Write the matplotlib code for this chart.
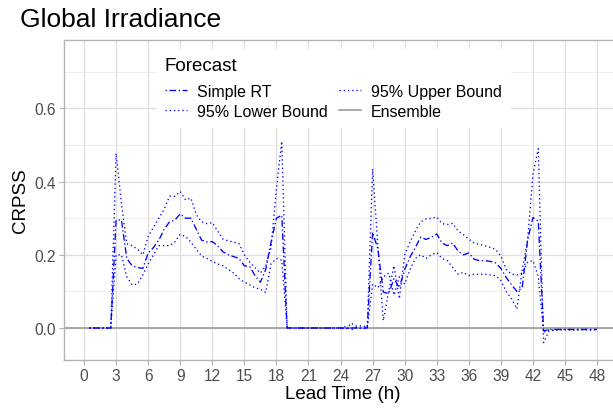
import numpy as np
import matplotlib
matplotlib.use("Agg")
import matplotlib.pyplot as plt
from matplotlib.ticker import MultipleLocator

plt.rcParams["font.family"] = ["Liberation Sans", "DejaVu Sans"]

# lead time in hours (half-hour steps)
lead_time = np.arange(0.5, 48.01, 0.5)

simple_rt = [
    0, 0, 0, 0, 0,
    0.295, 0.295, 0.19, 0.17, 0.165, 0.163,
    0.205, 0.22, 0.24, 0.27, 0.29, 0.295,
    0.312, 0.30, 0.30, 0.27, 0.24, 0.235,
    0.236, 0.225, 0.208, 0.20, 0.195, 0.19,
    0.17, 0.168, 0.143, 0.125, 0.16, 0.235,
    0.30, 0.308, 0, 0, 0, 0,
    0, 0, 0, 0, 0, 0,
    0, 0, 0, 0, 0, 0,
    0.262, 0.215, 0.098, 0.094, 0.135, 0.11,
    0.16, 0.194, 0.22, 0.248, 0.242, 0.248,
    0.257, 0.232, 0.225, 0.232, 0.21, 0.20,
    0.205, 0.188, 0.184, 0.184, 0.182, 0.178,
    0.163, 0.138, 0.118, 0.10, 0.11, 0.24,
    0.302, 0.292, -0.008, -0.004, -0.004, -0.004,
    -0.004, -0.004, -0.004, -0.004, -0.004, -0.004,
    -0.004,
]

upper_95 = [
    0, 0, 0, 0, 0,
    0.477, 0.34, 0.23, 0.225, 0.215, 0.20,
    0.25, 0.275, 0.30, 0.325, 0.36, 0.36,
    0.373, 0.35, 0.355, 0.31, 0.29, 0.285,
    0.288, 0.265, 0.243, 0.238, 0.235, 0.23,
    0.20, 0.18, 0.165, 0.15, 0.17, 0.22,
    0.38, 0.51, 0, 0, 0, 0,
    0, 0, 0, 0, 0, 0,
    0, -0.003, 0.013, 0.005, 0.006, 0.002,
    0.435, 0.22, 0.02, 0.10, 0.17, 0.08,
    0.20, 0.235, 0.265, 0.29, 0.298, 0.30,
    0.303, 0.285, 0.283, 0.286, 0.265, 0.255,
    0.243, 0.232, 0.228, 0.225, 0.22, 0.215,
    0.197, 0.16, 0.147, 0.145, 0.15, 0.18,
    0.184, 0.14, -0.012, -0.005, -0.006, -0.004,
    -0.005, -0.004, -0.006, -0.004, -0.005, -0.004,
    -0.004,
]

lower_95 = [
    0, 0, 0, 0, 0,
    0.20, 0.20, 0.14, 0.118, 0.12, 0.145,
    0.175, 0.20, 0.225, 0.225, 0.225, 0.235,
    0.256, 0.25, 0.235, 0.215, 0.197, 0.19,
    0.182, 0.175, 0.17, 0.16, 0.15, 0.135,
    0.125, 0.118, 0.11, 0.106, 0.097, 0.175,
    0.19, 0.185, 0, 0, 0, 0,
    0, 0, 0, 0, 0, 0,
    0, 0.004, -0.005, 0.002, -0.002, 0,
    0.12, 0.11, 0.14, 0.15, 0.09, 0.14,
    0.12, 0.16, 0.19, 0.20, 0.19, 0.20,
    0.206, 0.19, 0.184, 0.165, 0.147, 0.152,
    0.143, 0.147, 0.147, 0.147, 0.145, 0.143,
    0.13, 0.10, 0.08, 0.052, 0.16, 0.24,
    0.42, 0.49, -0.04, -0.008, -0.006, -0.005,
    -0.004, -0.006, -0.004, -0.005, -0.004, -0.006,
    -0.004,
]

ensemble_level = 0.0

fig = plt.figure(figsize=(6.13, 4.10), dpi=100)
ax = fig.add_axes([0.1044, 0.1183, 0.911, 0.7824])

dotted = (0, (1, 2.2))
dotdash = (0, (1, 2, 5, 2))

# grid like ggplot theme_light
ax.set_axisbelow(True)
ax.grid(which="major", color="#dedede", linewidth=0.9)
ax.grid(which="minor", axis="y", color="#e6e6e6", linewidth=0.5)

ens = ax.axhline(ensemble_level, color="#9a9a9a", linewidth=1.2, zorder=2)
l_rt, = ax.plot(lead_time, simple_rt, color="blue", linestyle=dotdash, linewidth=0.95, zorder=3)
l_lo, = ax.plot(lead_time, lower_95, color="blue", linestyle=dotted, linewidth=0.95, zorder=3)
l_up, = ax.plot(lead_time, upper_95, color="blue", linestyle=dotted, linewidth=0.95, zorder=3)

ax.set_xlim(-1.875, 50.375)
ax.set_ylim(-0.0888, 0.7877)
ax.xaxis.set_major_locator(MultipleLocator(3))
ax.yaxis.set_major_locator(MultipleLocator(0.2))
ax.yaxis.set_minor_locator(MultipleLocator(0.1))
ax.yaxis.set_major_formatter(matplotlib.ticker.FormatStrFormatter("%.1f"))

for s in ax.spines.values():
    s.set_color("#b3b3b3")
    s.set_linewidth(1.0)
ax.tick_params(which="major", length=3.5, width=0.8, color="#b3b3b3",
               labelcolor="#4d4d4d", labelsize=11.2, pad=2)
ax.tick_params(which="minor", length=0)

ax.set_xlabel("Lead Time (h)", fontsize=13.5, labelpad=1)
ax.set_ylabel("CRPSS", fontsize=13.5, labelpad=4)
fig.text(0.033, 0.952, "Global Irradiance", fontsize=19, va="center", ha="left")

leg = ax.legend([l_rt, l_lo, l_up, ens],
                ["Simple RT", "95% Lower Bound", "95% Upper Bound", "Ensemble"],
                title="Forecast", ncol=2, loc="upper left",
                bbox_to_anchor=(0.152, 0.995), fontsize=11.5, title_fontsize=13.5,
                frameon=True, fancybox=False, framealpha=1, edgecolor="white",
                handlelength=1.4, handletextpad=0.6, columnspacing=0.7,
                labelspacing=0.3, borderpad=0.5)
leg._legend_box.align = "left"
leg._legend_box.sep = 7

fig.savefig("out.png", dpi=100)
